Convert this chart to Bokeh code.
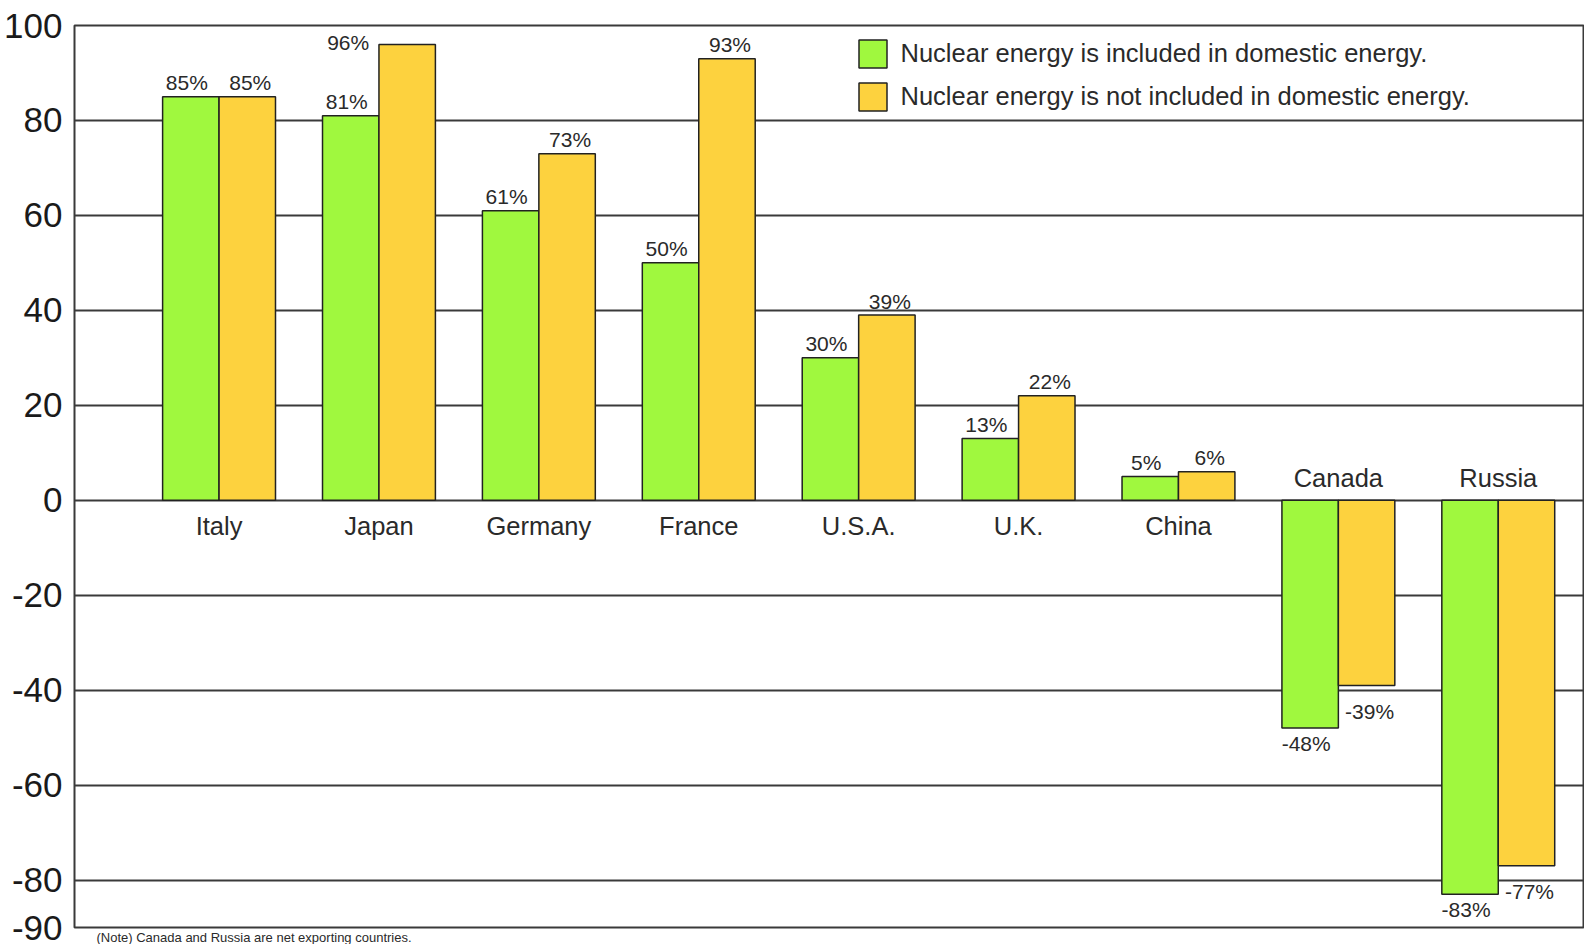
import numpy as np
from bokeh.plotting import figure
from bokeh.models import (Range1d, FixedTicker, ColumnDataSource, Legend, LegendItem,
                          Title, PrintfTickFormatter)
from bokeh.core.properties import value
from bokeh.embed import file_html
from bokeh.resources import INLINE

# ---- data ----
countries = ["Italy", "Japan", "Germany", "France", "U.S.A.", "U.K.", "China", "Canada", "Russia"]
included = [85, 81, 61, 50, 30, 13, 5, -48, -83]
not_included = [85, 96, 73, 93, 39, 22, 6, -39, -77]
y_ticks = [100, 80, 60, 40, 20, 0, -20, -40, -60, -80, -90]
series_names = ["Nuclear energy is included in domestic energy.",
                "Nuclear energy is not included in domestic energy."]
note = "(Note) Canada and Russia are net exporting countries."

# ---- style ----
FONT = "Liberation Sans"
GREEN = "#A0F83E"
ORANGE = "#FDD23E"
EDGE = "#222222"
GRID = "#3a3a3a"
TXT = "#2a2a2a"
BAR_W = 0.353
X0, X1 = -0.904, 8.533
Y0, Y1 = -90, 100
FRAME_H = 902.0

p = figure(width=1584, height=944, output_backend="svg", toolbar_location=None,
           x_range=Range1d(X0, X1), y_range=Range1d(Y0, Y1),
           min_border_left=74, min_border_right=1, min_border_top=25, min_border_bottom=17)
p.background_fill_color = "white"
p.border_fill_color = "white"
p.outline_line_color = GRID
p.outline_line_width = 2

p.xaxis.visible = False
p.xgrid.visible = False
p.ygrid.ticker = FixedTicker(ticks=y_ticks)
p.ygrid.grid_line_color = GRID
p.ygrid.grid_line_width = 2

p.yaxis.ticker = FixedTicker(ticks=y_ticks)
p.yaxis.formatter = PrintfTickFormatter(format="%d")
p.yaxis.axis_line_color = None
p.yaxis.major_tick_line_color = None
p.yaxis.minor_tick_line_color = None
p.yaxis.major_label_standoff = 6
p.yaxis.major_label_text_font = FONT
p.yaxis.major_label_text_font_size = "35px"
p.yaxis.major_label_text_color = "#1a1a1a"

x = np.arange(len(countries))
inc = np.array(included)
ninc = np.array(not_included)

src = ColumnDataSource(dict(xg=x - BAR_W / 2, xo=x + BAR_W / 2, inc=inc, ninc=ninc))
r1 = p.vbar(x="xg", top="inc", bottom=0, width=BAR_W, source=src,
            fill_color=GREEN, line_color=EDGE, line_width=1.5)
r2 = p.vbar(x="xo", top="ninc", bottom=0, width=BAR_W, source=src,
            fill_color=ORANGE, line_color=EDGE, line_width=1.5)

px_per_unit = FRAME_H / (Y1 - Y0)

# value labels
def add_labels(xs, vals, dx, neg_off):
    vals = np.asarray(vals)
    # a label that would run past the top of the frame is set beside its bar
    too_high = (Y1 - vals) * px_per_unit < 24
    xo = np.where(too_high, -59, dx)
    yo = np.where(vals >= 0, np.where(too_high, -2, -14), neg_off)
    lbl = ColumnDataSource(dict(x=xs, y=vals, t=[f"{v}%" for v in vals], xo=xo, yo=yo))
    p.text(x="x", y="y", text="t", source=lbl, x_offset="xo", y_offset="yo",
           text_align="center", text_baseline="alphabetic",
           text_font=value(FONT), text_font_size="21px", text_color=TXT)

add_labels(x - BAR_W / 2, included, -4, 15)
add_labels(x + BAR_W / 2, not_included, 3, 26)

# category labels at the zero line
grp_max = np.maximum(inc, ninc)
cat = ColumnDataSource(dict(x=x, y=np.zeros(len(x)), t=countries,
                            yo=np.where(grp_max >= 0, 26, -22)))
p.text(x="x", y="y", text="t", source=cat, y_offset="yo",
       text_align="center", text_baseline="alphabetic",
       text_font=value(FONT), text_font_size="25.5px", text_color=TXT)

legend = Legend(items=[LegendItem(label=series_names[0], renderers=[r1]),
                       LegendItem(label=series_names[1], renderers=[r2])],
                location=(780.5, 813), orientation="vertical",
                glyph_width=35, glyph_height=35, label_height=35, spacing=8,
                padding=0, margin=0, label_standoff=11,
                label_text_font=FONT, label_text_font_size="25.5px", label_text_color=TXT,
                border_line_alpha=0, background_fill_alpha=0)
p.add_layout(legend)

# note, in the strip below the frame
p.add_layout(Title(text=note, align="left", offset=22, standoff=0,
                   text_font=FONT, text_font_size="13px", text_font_style="normal",
                   text_color=TXT), "below")

open("out.html", "w").write(file_html(p, INLINE))
